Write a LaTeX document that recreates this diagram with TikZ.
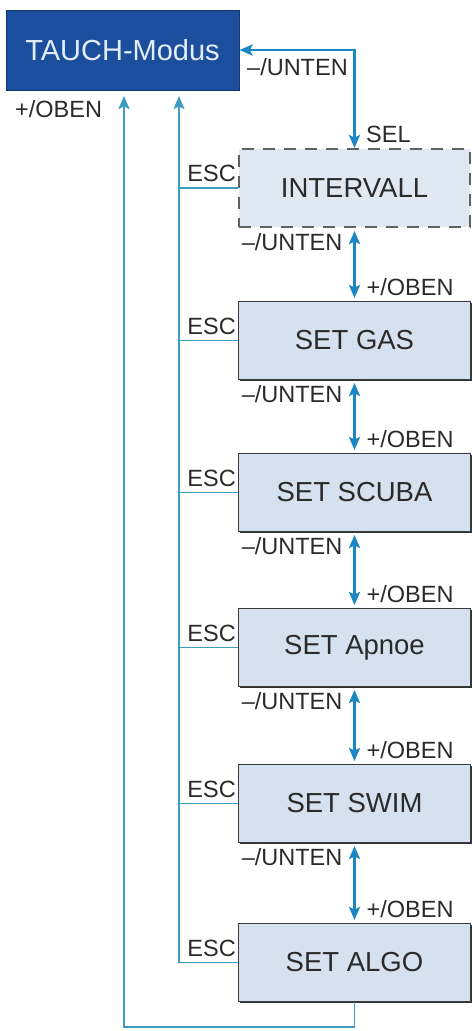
\documentclass[tikz,border=0pt]{standalone}
\usepackage{fontspec}
\setmainfont{Liberation Sans}
\usetikzlibrary{arrows.meta,shadows}
\usepackage{xcolor}
\definecolor{ModeDark}{HTML}{1C4E9E}
\definecolor{ModeText}{HTML}{E3EDF8}
\definecolor{MenuLight}{HTML}{D5E1EE}
\definecolor{IntLight}{HTML}{E0E9F2}
\definecolor{MenuDark}{HTML}{3A3A3A}
\definecolor{FlowBlue}{HTML}{1B86C4}
\definecolor{EscTeal}{HTML}{3E9BC2}
\definecolor{LabelGray}{HTML}{2A2A2A}

\begin{document}
\begin{tikzpicture}[
  x=1pt, y=-1pt,
  >={Stealth[length=13pt,width=11pt,inset=2.5pt]},
  mode/.style={draw=ModeDark!70!black, fill=ModeDark, text=ModeText, line width=1pt, minimum width=233pt, minimum height=80pt, font=\fontsize{29}{33}\selectfont},
  menu/.style={draw=MenuDark, fill=MenuLight, text=LabelGray, line width=1pt, minimum width=232pt, minimum height=78pt, font=\fontsize{27.5}{31}\selectfont, drop shadow={shadow xshift=1.2pt, shadow yshift=-1.5pt, fill=black!80, opacity=1}},
  menudash/.style={draw=MenuDark!80, fill=IntLight, text=LabelGray, line width=2pt, dash pattern=on 12pt off 9pt, minimum width=231pt, minimum height=78pt, font=\fontsize{27.5}{31}\selectfont},
  flow/.style={FlowBlue, line width=2.5pt},
  escline/.style={EscTeal, line width=1.8pt},
  lbl/.style={text=LabelGray, inner sep=0pt, font=\fontsize{23.5}{27}\selectfont}
]
\useasboundingbox (0,0) rectangle (476,1031);

% Mode and menu entries
\node[mode] (Mode) at (122.5,50) {TAUCH-Modus};
\node[menudash] (Int) at (354.5,188) {INTERVALL};
\node[menu] (Gas) at (354.5,340.5) {SET GAS};
\node[menu] (Scuba) at (354.5,492.5) {SET SCUBA};
\node[menu] (Apnoe) at (354.5,647.5) {SET Apnoe};
\node[menu] (Swim) at (354.5,803.5) {SET SWIM};
\node[menu] (Algo) at (354.5,962.5) {SET ALGO};

% Mode <-> INTERVALL
\draw[flow,<->] (Mode.east) -| (Int.north);
\node[lbl,anchor=west] at (247,67) {--/UNTEN};
\node[lbl,anchor=west] at (366,134) {SEL};
\node[lbl,anchor=west] at (15,109) {+/OBEN};

% Up / down between entries
\foreach \a/\b in {Int/Gas,Gas/Scuba,Scuba/Apnoe,Apnoe/Swim,Swim/Algo} {
  \draw[flow,<->,shorten <=3pt,shorten >=3pt] (\a.south) -- (\b.north);
  \node[lbl,anchor=east] at ([xshift=-12pt,yshift=-14pt]\a.south) {--/UNTEN};
  \node[lbl,anchor=west] at ([xshift=12pt,yshift=14pt]\b.north) {+/OBEN};
}

% ESC back to mode
\coordinate (escTop) at (179,96);
\foreach \b in {Int,Gas,Scuba,Apnoe,Swim}
  \draw[escline] (\b.west) -- (\b.west -| escTop);
\draw[escline,->] (Algo.west) -| (escTop);
\foreach \b in {Int,Gas,Scuba,Apnoe,Swim,Algo}
  \node[lbl,anchor=south east] at ([xshift=-2pt,yshift=6pt]\b.west) {ESC};

% +/OBEN from last entry back to mode
\coordinate (loopTop) at (124,96);
\coordinate (loopBot) at (124,1027);
\draw[escline,->] (Algo.south) |- (loopBot) -- (loopTop);

\end{tikzpicture}
\end{document}
